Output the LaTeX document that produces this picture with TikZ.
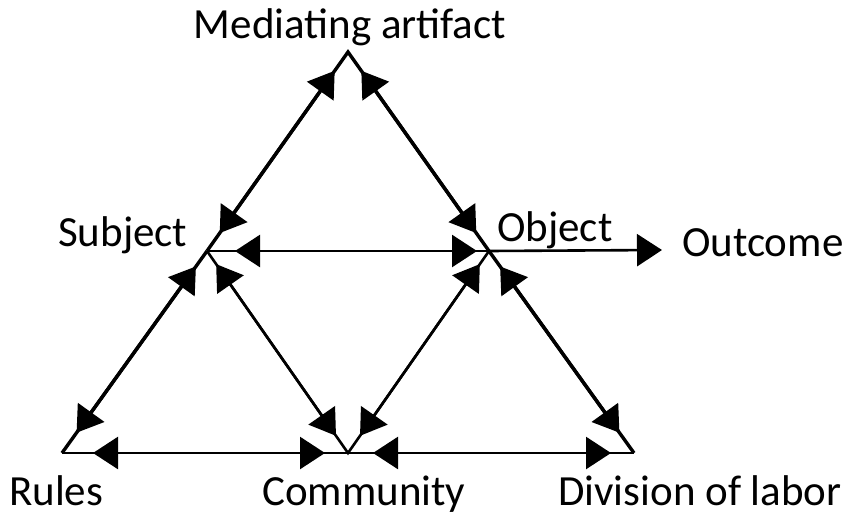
\documentclass[tikz,border=0pt]{standalone}
\usepackage{fontspec}
\setmainfont{Carlito}
\usetikzlibrary{arrows.meta}
\begin{document}
\begin{tikzpicture}[x=1pt,y=-1pt,
  lab/.style={font=\fontsize{43}{48}\selectfont, inner sep=0pt, anchor=base west},
  edge/.style={line width=3.4pt, line join=miter},
  thin/.style={line width=2.6pt},
  tip/.style={{Triangle[length=25pt,width=32pt]}-{Triangle[length=25pt,width=32pt]}},
  gap/.style 2 args={shorten <=#1pt, shorten >=#2pt}]
\useasboundingbox (0,0) rectangle (846,517);
\coordinate (top) at (348,52);
\coordinate (subj) at (207,251);
\coordinate (obj) at (489,251);
\coordinate (rules) at (62,453);
\coordinate (comm) at (348,453);
\coordinate (div) at (634,453);
\coordinate (outc) at (662,250);
% lines
\draw[edge] (subj) -- (top) -- (obj);
\draw[edge] (subj) -- (rules);
\draw[edge] (obj) -- (div);
\draw[thin] (rules) -- (div);
\draw[thin] (subj) -- (obj);
\draw[thin] (subj) -- (comm) -- (obj);
% arrows
\draw[edge, tip, gap={22}{23}] (subj) -- (top);
\draw[edge, tip, gap={22}{23}] (obj) -- (top);
\draw[edge, tip, gap={19}{25}] (subj) -- (rules);
\draw[edge, tip, gap={19}{25}] (obj) -- (div);
\draw[thin, tip, gap={28}{12}] (subj) -- (obj);
\draw[thin, tip, gap={31}{23}] (rules) -- (comm);
\draw[thin, tip, gap={25}{23}] (comm) -- (div);
\draw[thin, tip, gap={16}{21}] (subj) -- (comm);
\draw[thin, tip, gap={16}{21}] (obj) -- (comm);
\draw[thin, -{Triangle[length=25pt,width=32pt]}] (obj) -- (outc);
% labels
\node[lab, anchor=base] (lma) at (350,38) {Mediating artifact};
\node[lab] (lsub) at (58,246) {Subject};
\node[lab] (lobj) at (497,241) {Object};
\node[lab] (lout) at (682,256) {Outcome};
\node[lab] (lrul) at (9,505) {Rules};
\node[lab] (lcom) at (262,505) {Community};
\node[lab] (ldiv) at (558,505) {Division of labor};
\end{tikzpicture}
\end{document}
